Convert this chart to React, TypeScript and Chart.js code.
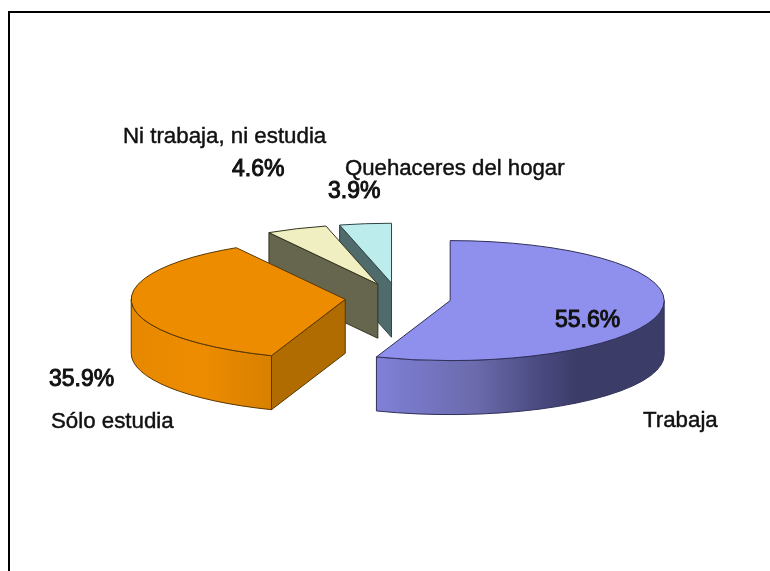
import React, { useEffect, useRef } from "react";
import { Chart, registerables } from "chart.js";

Chart.register(...registerables);

const categories = ["Trabaja", "Sólo estudia", "Ni trabaja, ni estudia", "Quehaceres del hogar"];
const shares = [55.6, 35.9, 4.6, 3.9];
const topColors = ["#8f8fee", "#ee8c00", "#efefc2", "#bcecec"];
const cutColors = ["#3c3c68", "#b06c00", "#66664f", "#4f6b6b"];
const edgeColors = ["#30305a", "#5a3800", "#33331f", "#2f4545"];
const wallStops: [number, string][][] = [
  [[0, "#8080d8"], [0.35, "#6a6aac"], [0.58, "#48487e"], [0.7, "#3c3c68"], [1, "#3c3c68"]],
  [[0, "#e68800"], [0.5, "#ee8c00"], [1, "#d88000"]],
  [[0, "#66664f"], [1, "#66664f"]],
  [[0, "#4f6b6b"], [1, "#4f6b6b"]],
];
const drawOrder = [3, 2, 0, 1];
const labelTexts = [
  { text: categories[2], x: 123, y: 143, size: 22.3, heavy: 0.45 },
  { text: "4.6%", x: 232, y: 176, size: 23, heavy: 1 },
  { text: categories[3], x: 345, y: 175, size: 22.2, heavy: 0.45 },
  { text: "3.9%", x: 328, y: 198, size: 23, heavy: 1 },
  { text: "55.6%", x: 555, y: 327, size: 23, heavy: 1 },
  { text: "35.9%", x: 49, y: 386, size: 23, heavy: 1 },
  { text: categories[1], x: 51, y: 428, size: 22.3, heavy: 0.45 },
  { text: categories[0], x: 643, y: 427, size: 22.3, heavy: 0.45 },
];

const SQUASH = 60 / 214;
const DEPTH = 54;

const pie3d = {
  id: "pie3d",
  beforeDraw(chart: any) {
    const { ctx, width, height } = chart;
    ctx.save();
    ctx.fillStyle = "#fff";
    ctx.fillRect(0, 0, width, height);
    ctx.strokeStyle = "#000";
    ctx.lineWidth = 2;
    ctx.strokeRect(9, 12, width + 20, height + 20);
    ctx.restore();
  },
  beforeDatasetDraw(chart: any) {
    const { ctx } = chart;
    const arcs = chart.getDatasetMeta(0).data;
    const ell = (px: number, py: number, r: number, a0: number, a1: number, dy: number, ccw = false) => {
      ctx.save();
      ctx.translate(px, py + dy);
      ctx.scale(1, SQUASH);
      ctx.arc(0, 0, r, a0, a1, ccw);
      ctx.restore();
    };
    for (const i of drawOrder) {
      const arc = arcs[i];
      const { x, y, startAngle: a0, endAngle: a1, outerRadius: r } = arc;
      const mid = (a0 + a1) / 2;
      const off = arc.options.offset;
      const cx = x + Math.cos(mid) * off;
      const cy = y + Math.sin(mid) * off * SQUASH;
      const pt = (a: number): [number, number] => [cx + r * Math.cos(a), cy + r * Math.sin(a) * SQUASH];
      ctx.save();
      ctx.lineWidth = 1;
      ctx.lineJoin = "round";
      ctx.strokeStyle = edgeColors[i];

      // radial cut faces whose outward normal points at the viewer
      const faceA0 = Math.cos(a0) < -1e-6;
      const faceA1 = Math.cos(a1) > 1e-6;
      for (const [a, visible] of [[a0, faceA0], [a1, faceA1]] as [number, boolean][]) {
        if (!visible) continue;
        const p = pt(a);
        ctx.beginPath();
        ctx.moveTo(cx, cy);
        ctx.lineTo(p[0], p[1]);
        ctx.lineTo(p[0], p[1] + DEPTH);
        ctx.lineTo(cx, cy + DEPTH);
        ctx.closePath();
        ctx.fillStyle = cutColors[i];
        ctx.fill();
        ctx.stroke();
      }

      // outer wall: only the part of the rim on the near side
      const wa0 = Math.max(a0, 0);
      const wa1 = Math.min(a1, Math.PI);
      if (wa1 > wa0) {
        const pa = pt(wa0);
        const pb = pt(wa1);
        const g = ctx.createLinearGradient(Math.min(pa[0], pb[0]), 0, Math.max(pa[0], pb[0]), 0);
        wallStops[i].forEach(([s, c]) => g.addColorStop(s, c));
        ctx.beginPath();
        ell(cx, cy, r, wa0, wa1, 0);
        ell(cx, cy, r, wa1, wa0, DEPTH, true);
        ctx.closePath();
        ctx.fillStyle = g;
        ctx.fill();
        ctx.stroke();
      }

      // top surface, coloured through the dataset
      ctx.beginPath();
      ctx.moveTo(cx, cy);
      ell(cx, cy, r, a0, a1, 0);
      ctx.closePath();
      ctx.fillStyle = arc.options.backgroundColor;
      ctx.fill();
      ctx.stroke();
      ctx.restore();
    }
    return false;
  },
  afterDraw(chart: any) {
    const { ctx } = chart;
    ctx.save();
    ctx.fillStyle = "#111";
    ctx.strokeStyle = "#111";
    ctx.textBaseline = "alphabetic";
    ctx.textAlign = "left";
    for (const l of labelTexts) {
      ctx.font = `${l.size}px "Liberation Sans", Arial, sans-serif`;
      ctx.lineWidth = l.heavy;
      ctx.fillText(l.text, l.x, l.y);
      ctx.strokeText(l.text, l.x, l.y);
    }
    ctx.restore();
  },
};

export default function App() {
  const ref = useRef<HTMLCanvasElement>(null);
  useEffect(() => {
    const chart = new Chart(ref.current!, {
      type: "pie",
      plugins: [pie3d],
      data: {
        labels: categories,
        datasets: [{ data: shares, backgroundColor: topColors, borderWidth: 0, offset: 53 }],
      },
      options: {
        animation: false,
        responsive: false,
        radius: 214,
        events: [],
        layout: { padding: { left: 26, top: 25, right: 0, bottom: 0 } },
        plugins: { legend: { display: false }, tooltip: { enabled: false } },
      } as any,
    });
    return () => chart.destroy();
  }, []);
  return (
    <div style={{ position: "absolute", left: 0, top: 0, width: 770, height: 571, overflow: "hidden" }}>
      <canvas ref={ref} width={770} height={571} style={{ display: "block" }} />
    </div>
  );
}
